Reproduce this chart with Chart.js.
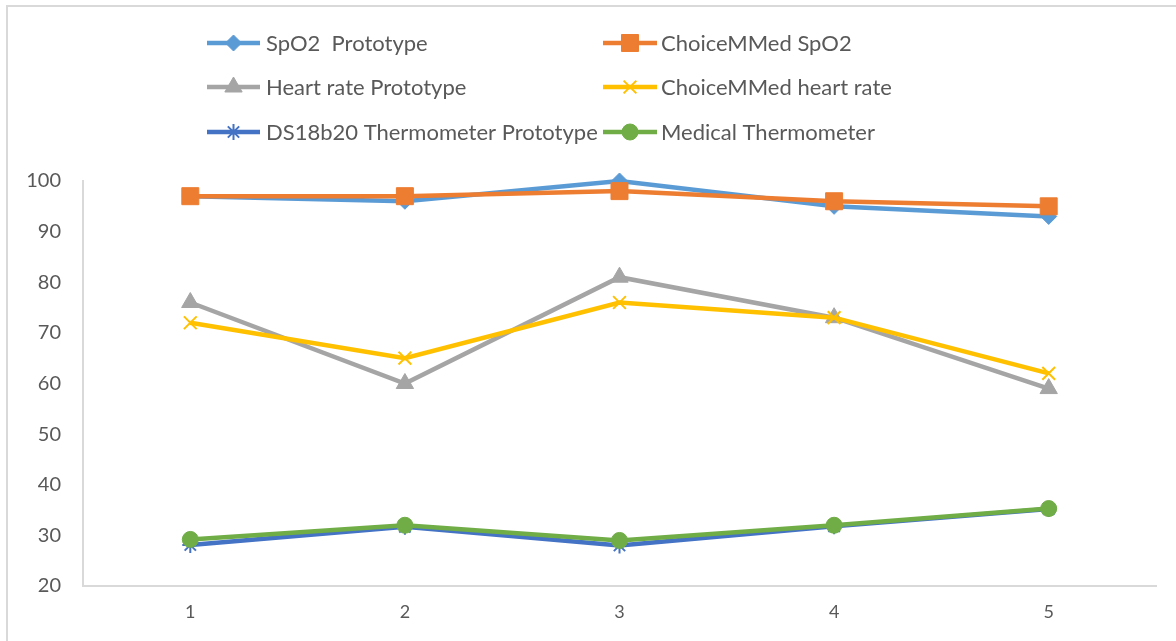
<!DOCTYPE html>
<html>
<head>
<meta charset="utf-8">
<script src="https://cdn.jsdelivr.net/npm/chart.js@4/dist/chart.umd.min.js"></script>
<style>
  html,body{margin:0;padding:0;background:#fff;}
  #wrap{width:1176px;height:641px;position:relative;}
</style>
</head>
<body>
<div id="wrap"><canvas id="c" width="1176" height="641"></canvas></div>
<script>
const categories = ["1", "2", "3", "4", "5"];
const seriesNames = [
  "SpO2  Prototype", "ChoiceMMed SpO2",
  "Heart rate Prototype", "ChoiceMMed heart rate",
  "DS18b20 Thermometer Prototype", "Medical Thermometer"
];
const spo2Prototype = [97, 96, 100, 95, 93];
const choiceSpo2 = [97, 97, 98, 96, 95];
const hrPrototype = [76, 60, 81, 73, 59];
const choiceHr = [72, 65, 76, 73, 62];
const ds18b20Temp = [28.1, 31.7, 28, 31.8, 35.2];
const medicalTemp = [29.2, 32, 29, 32, 35.3];
const yTicks = [20, 30, 40, 50, 60, 70, 80, 90, 100];

const colors = ["#5B9BD5", "#ED7D31", "#A5A5A5", "#FFC000", "#4472C4", "#70AD47"];
const styles = ["rectRot", "rect", "triangle", "crossRot", "star", "circle"];
const radii = [8, 12, 10, 9, 8, 8];
const values = [spo2Prototype, choiceSpo2, hrPrototype, choiceHr, ds18b20Temp, medicalTemp];

const datasets = values.map((v, i) => ({
  label: seriesNames[i],
  data: v,
  borderColor: colors[i],
  backgroundColor: colors[i],
  pointBackgroundColor: colors[i],
  pointBorderColor: colors[i],
  pointBorderWidth: (styles[i] === "crossRot" || styles[i] === "star") ? 2 : 1,
  borderWidth: 4.5,
  pointStyle: styles[i],
  pointRadius: radii[i],
  pointHoverRadius: radii[i],
  tension: 0,
  clip: false,
  order: values.length - i
}));

const frame = {
  id: "frame",
  beforeDraw(chart) {
    const ctx = chart.ctx;
    ctx.save();
    ctx.fillStyle = "#fff";
    ctx.fillRect(0, 0, chart.width, chart.height);
    ctx.strokeStyle = "#d9d9d9";
    ctx.lineWidth = 2;
    ctx.beginPath();
    ctx.moveTo(7, chart.height);
    ctx.lineTo(7, 6);
    ctx.lineTo(chart.width, 6);
    ctx.stroke();
    ctx.restore();
  }
};

const legendPlugin = {
  id: "gridLegend",
  afterDraw(chart) {
    const ctx = chart.ctx;
    const lineStart = [207, 603];
    const lineEnd = [260, 657];
    const textX = [266, 661];
    const rowY = [43, 87, 132];
    ctx.save();
    chart.data.datasets.forEach((ds, i) => {
      const col = i % 2, row = Math.floor(i / 2);
      const y = rowY[row];
      ctx.strokeStyle = ds.borderColor;
      ctx.lineWidth = 4.5;
      ctx.beginPath();
      ctx.moveTo(lineStart[col], y);
      ctx.lineTo(lineEnd[col], y);
      ctx.stroke();
      ctx.fillStyle = ds.pointBackgroundColor;
      ctx.strokeStyle = ds.pointBorderColor;
      ctx.lineWidth = ds.pointBorderWidth;
      Chart.helpers.drawPoint(ctx, {pointStyle: ds.pointStyle, radius: ds.pointRadius, rotation: 0, borderWidth: ds.pointBorderWidth},
        (lineStart[col] + lineEnd[col]) / 2, y);
      ctx.fillStyle = "#595959";
      ctx.font = "22px Lato";
      ctx.textBaseline = "middle";
      ctx.textAlign = "left";
      ctx.fillText(ds.label, textX[col], y + 1);
    });
    ctx.restore();
  }
};

new Chart(document.getElementById("c"), {
  type: "line",
  data: { labels: categories, datasets },
  options: {
    responsive: false,
    animation: false,
    events: [],
    layout: { padding: { top: 181, right: 20, left: 0, bottom: 0 } },
    plugins: { legend: { display: false }, tooltip: { enabled: false } },
    scales: {
      x: {
        offset: true,
        grid: { display: false, drawTicks: false },
        border: { display: true, color: "#d9d9d9", width: 2 },
        ticks: { color: "#595959", font: { family: "Lato", size: 18 }, padding: 15 },
        afterFit(scale) { scale.height = 55; }
      },
      y: {
        min: 20, max: 100,
        afterBuildTicks(scale) { scale.ticks = yTicks.map(v => ({ value: v })); },
        grid: { display: false, drawTicks: false },
        border: { display: true, color: "#d9d9d9", width: 2 },
        ticks: { color: "#595959", font: { family: "Lato", size: 20 }, padding: 22 },
        afterFit(scale) { scale.width = 83; }
      }
    }
  },
  plugins: [frame, legendPlugin]
});
</script>
</body>
</html>
